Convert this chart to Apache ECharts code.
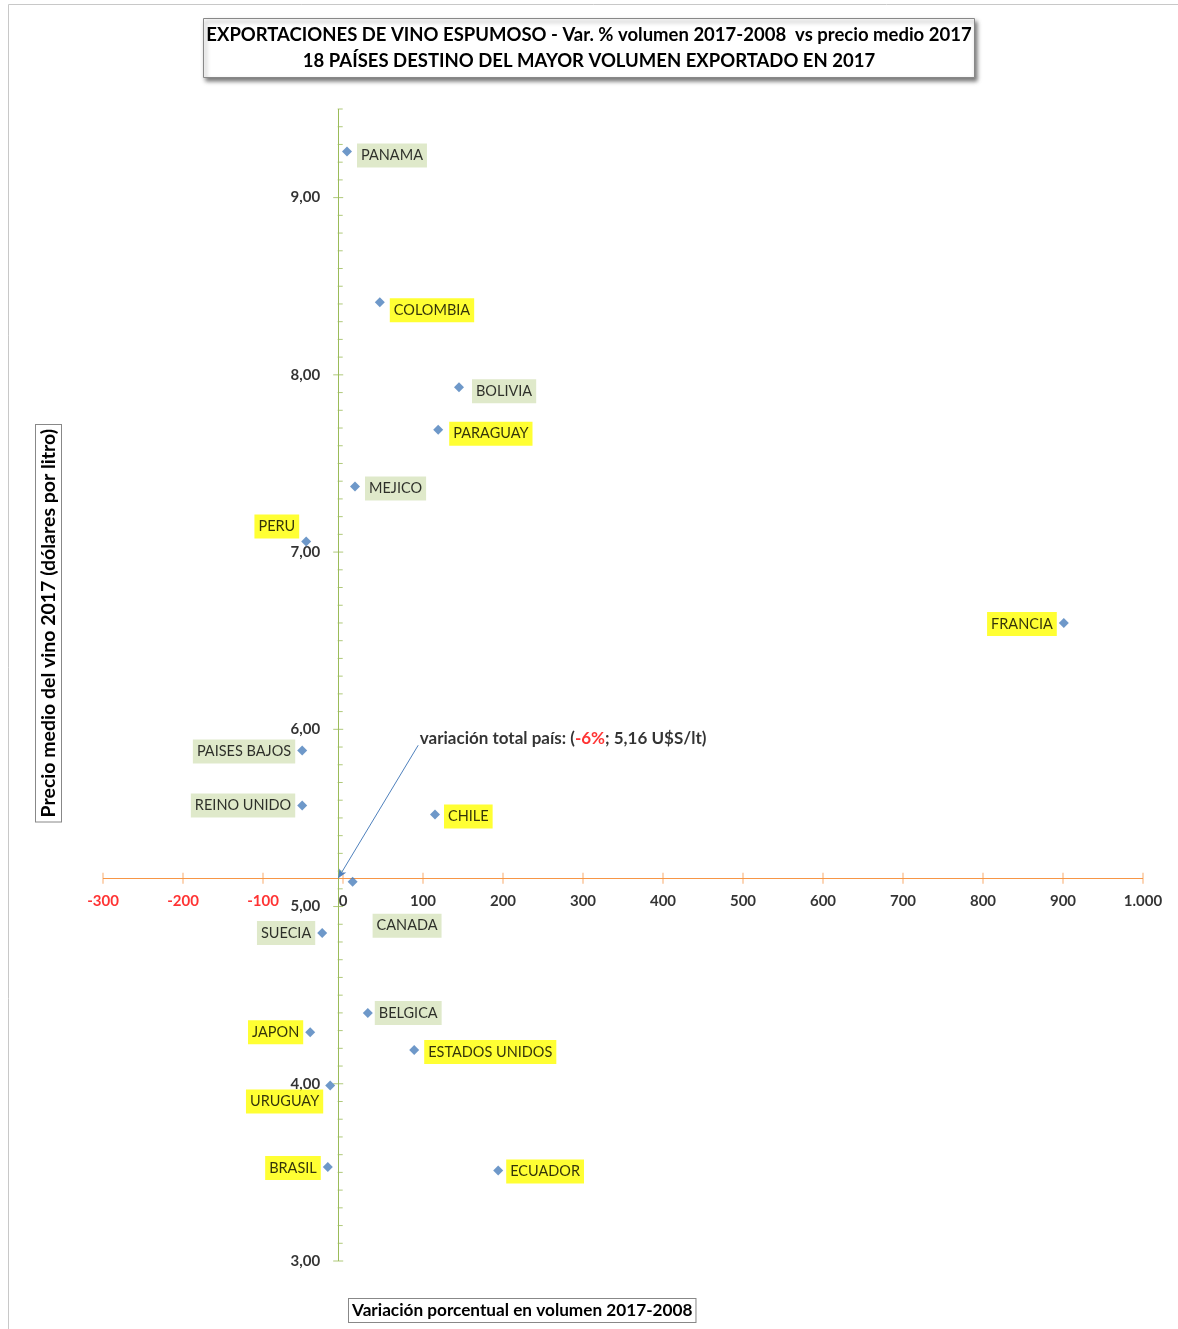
<!DOCTYPE html>
<html>
<head>
<meta charset="utf-8">
<script src="https://cdn.jsdelivr.net/npm/echarts@6/dist/echarts.min.js"></script>
<style>
html,body{margin:0;padding:0;background:#fff;}
#chart{width:1178px;height:1329px;}
</style>
</head>
<body>
<div id="chart"></div>
<script>
// ---------- DATA ----------
const countries = ['PANAMA','COLOMBIA','BOLIVIA','PARAGUAY','MEJICO','PERU','FRANCIA','PAISES BAJOS','REINO UNIDO','CHILE','CANADA','SUECIA','BELGICA','JAPON','ESTADOS UNIDOS','URUGUAY','BRASIL','ECUADOR'];
const volumeChange = [5, 46, 145, 119, 15, -46, 901, -51, -51, 115, 12, -26, 31, -41, 89, -16, -19, 194];
const avgPrice = [9.26, 8.41, 7.93, 7.69, 7.37, 7.06, 6.60, 5.88, 5.57, 5.52, 5.14, 4.85, 4.40, 4.29, 4.19, 3.99, 3.53, 3.51];
const highlighted = ['COLOMBIA','PARAGUAY','PERU','FRANCIA','CHILE','JAPON','ESTADOS UNIDOS','URUGUAY','BRASIL','ECUADOR'];
const totalChange = -6;
const totalPrice = 5.16;
const xTickValues = [-300,-200,-100,0,100,200,300,400,500,600,700,800,900,1000];
const xTickLabels = ['-300','-200','-100','0','100','200','300','400','500','600','700','800','900','1.000'];
const yTickValues = [3,4,5,6,7,8,9];
const yTickLabels = ['3,00','4,00','5,00','6,00','7,00','8,00','9,00'];

// ---------- LAYOUT / STYLE ----------
const FONT = 'Lato, "Open Sans", sans-serif';
const labelPlacement = {
  'PANAMA':['right',5,0,4], 'COLOMBIA':['right',5,0,8], 'BOLIVIA':['right',5,3,4],
  'PARAGUAY':['right',5,1,4], 'MEJICO':['right',5,0,2], 'PERU':['left',2,0,-15],
  'FRANCIA':['left',2,0,1], 'PAISES BAJOS':['left',2,0,1], 'REINO UNIDO':['left',2,0,0],
  'CHILE':['right',5,-1,2], 'CANADA':['right',5,10,44], 'SUECIA':['left',2,0,0],
  'BELGICA':['right',5,-3,0], 'JAPON':['left',2,0,0], 'ESTADOS UNIDOS':['right',5,0,2],
  'URUGUAY':['left',2,0,16], 'BRASIL':['left',2,0,1], 'ECUADOR':['right',5,-2,1]
};
const annotationAt = [96, 5.95];
const arrowStart = [94, 5.91];

const pointData = countries.map((c, i) => {
  const p = labelPlacement[c];
  return {
    name: c,
    value: [volumeChange[i], avgPrice[i]],
    label: {
      position: p[0], distance: p[1], offset: [p[2], p[3]],
      backgroundColor: highlighted.includes(c) ? '#ffff00' : '#d7e4bd'
    }
  };
});

const minorY = [];
for (let k = 30; k <= 95; k++) { if (k % 10 !== 0) minorY.push(k / 10); }

const chart = echarts.init(document.getElementById('chart'));
chart.setOption({
  backgroundColor: '#ffffff',
  animation: false,
  textStyle: { fontFamily: FONT },
  title: {
    text: 'EXPORTACIONES DE VINO ESPUMOSO - Var. % volumen 2017-2008  vs precio medio 2017\n18 PAÍSES DESTINO DEL MAYOR VOLUMEN EXPORTADO EN 2017',
    left: 'center', top: 18,
    padding: [4, 3, 4, 3],
    borderColor: '#888', borderWidth: 1,
    backgroundColor: '#fff',
    shadowColor: 'rgba(0,0,0,0.5)', shadowBlur: 4, shadowOffsetX: 2, shadowOffsetY: 3,
    textStyle: { fontFamily: FONT, fontSize: 18.5, fontWeight: 'bold', color: '#000', lineHeight: 26, align: 'center' }
  },
  grid: { left: 103, right: 35, top: 109, bottom: 68 },
  xAxis: {
    type: 'value', min: -300, max: 1000, interval: 100,
    axisLine: { show: false }, axisTick: { show: false }, axisLabel: { show: false }, splitLine: { show: false }
  },
  yAxis: {
    type: 'value', min: 3, max: 9.5, interval: 0.5,
    axisLine: { show: false }, axisTick: { show: false }, axisLabel: { show: false }, splitLine: { show: false }
  },
  graphic: [
    { type: 'rect', shape: { x: 8.5, y: 4.5, width: 1300, height: 1400 }, style: { fill: 'none', stroke: '#c8c8c8', lineWidth: 1 }, z: -10 },
    { type: 'text', left: 35, top: 424, rotation: Math.PI / 2, origin: [0, 0],
      style: { text: 'Precio medio del vino 2017 (dólares por litro)', font: 'bold 19.5px ' + FONT, fill: '#000',
        backgroundColor: '#fff', borderColor: '#888', borderWidth: 1, padding: [3, 4, 2, 4] } },
    { type: 'text', left: 348, top: 1298,
      style: { text: 'Variación porcentual en volumen 2017-2008', font: 'bold 17.2px ' + FONT, fill: '#000',
        backgroundColor: '#fff', borderColor: '#888', borderWidth: 1, padding: [3, 3, 3, 3] } }
  ],
  series: [
    {
      name: 'axes', type: 'scatter', data: [], silent: true, z: 1,
      markLine: {
        silent: true, symbol: 'none', animation: false, label: { show: false },
        data: [
          { yAxis: totalPrice, lineStyle: { color: '#f79646', width: 1, type: 'solid' } },
          { xAxis: totalChange, lineStyle: { color: '#9bbb59', width: 1, type: 'solid' } }
        ]
      }
    },
    {
      name: 'arrow', type: 'scatter', data: [], silent: true, z: 2,
      markLine: {
        silent: true, animation: false, label: { show: false },
        symbol: ['none', 'arrow'], symbolSize: [6, 9],
        lineStyle: { color: '#4f81bd', width: 1, type: 'solid' },
        data: [[{ coord: arrowStart }, { coord: [totalChange, totalPrice] }]]
      }
    },
    {
      name: 'xticks', type: 'scatter', silent: true, z: 2,
      symbol: 'rect', symbolSize: [1, 11],
      itemStyle: { color: '#f79646' },
      data: xTickValues.map((v, i) => ({ value: [v, totalPrice], label: { formatter: xTickLabels[i], color: v < 0 ? '#ff0000' : '#000' } })),
      label: { show: true, position: 'bottom', distance: 10, fontFamily: FONT, fontSize: 15, fontWeight: 'bold' }
    },
    {
      name: 'ymajor', type: 'scatter', silent: true, z: 2,
      symbol: 'rect', symbolSize: [10, 1],
      itemStyle: { color: '#9bbb59' },
      data: yTickValues.map((v, i) => ({ value: [totalChange, v], label: { formatter: yTickLabels[i] } })),
      label: { show: true, position: 'left', distance: 13, color: '#000', fontFamily: FONT, fontSize: 15, fontWeight: 'bold' }
    },
    {
      name: 'yminor', type: 'scatter', silent: true, z: 2,
      symbol: 'rect', symbolSize: [5, 1], symbolOffset: [2, 0],
      itemStyle: { color: '#9bbb59' },
      data: minorY.map(v => [totalChange, v])
    },
    {
      name: 'annotation', type: 'scatter', silent: true, z: 3,
      symbolSize: 0,
      data: [{ value: annotationAt }],
      label: {
        show: true, position: 'right', distance: 0,
        formatter: '{a|variación total país: (}{r|' + totalChange + '%}{a|; ' + String(totalPrice).replace('.', ',') + ' U$S/lt)}',
        rich: {
          a: { fontFamily: FONT, fontSize: 17, fontWeight: 'bold', color: '#000' },
          r: { fontFamily: FONT, fontSize: 17, fontWeight: 'bold', color: '#ff0000' }
        }
      }
    },
    {
      name: 'países', type: 'scatter', z: 5,
      symbol: 'diamond', symbolSize: 10,
      itemStyle: { color: '#4a7ebb' },
      data: pointData,
      label: { show: true, formatter: '{b}', color: '#000', fontFamily: FONT, fontSize: 14.5, padding: [5, 4, 4, 4] }
    }
  ]
});
</script>
</body>
</html>
